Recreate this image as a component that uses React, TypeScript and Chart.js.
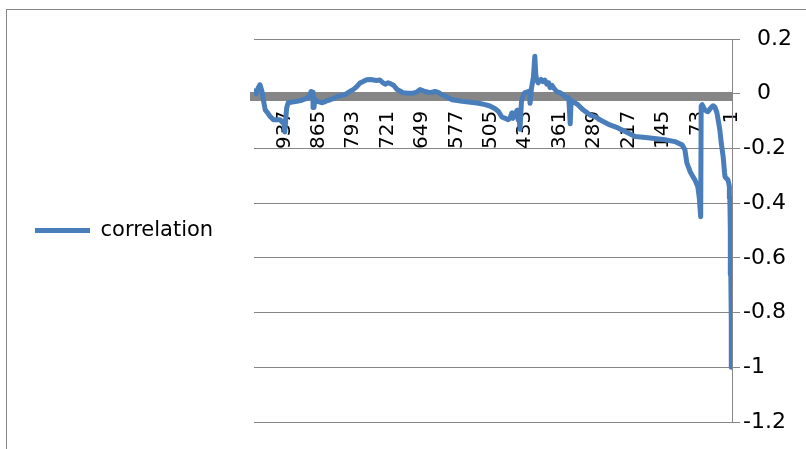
import React, { useEffect, useRef } from 'react';
import { Chart, registerables } from 'chart.js';

Chart.register(...registerables);

const lags = [
  1, 2, 3, 4, 5, 6, 7, 9, 12, 15, 16, 19, 23, 26, 28, 32, 36, 40, 44, 51, 57, 63, 64, 65,
  66, 69, 72, 78, 82, 88, 95, 99, 105, 120, 141, 176, 203, 224, 239, 256, 272, 287, 298,
  312, 323, 333, 337, 339, 342, 346, 354, 360, 367, 373, 377, 381, 384, 388, 392, 396, 400,
  404, 406, 409, 411, 413, 416, 420, 423, 424, 427, 434, 437, 441, 444, 446, 448, 450, 454,
  459, 461, 465, 469, 475, 482, 489, 496, 507, 517, 528, 538, 552, 565, 575, 586, 597, 607,
  615, 622, 632, 643, 649, 653, 660, 668, 678, 689, 695, 701, 708, 714, 720, 726, 731, 737,
  744, 750, 757, 765, 772, 779, 786, 793, 800, 807, 813, 820, 827, 834, 841, 847, 853, 859,
  864, 869, 873, 875, 877, 879, 881, 884, 888, 895, 903, 911, 920, 929, 932, 934, 936, 938,
  941, 946, 953, 960, 964, 967, 972, 977, 981, 984, 988, 992, 996, 1000
];

// Correlation value at each of those lags
const correlation = [
  -1.0, -0.83, -0.66, -0.5, -0.38, -0.34, -0.33, -0.315, -0.31, -0.304, -0.29, -0.23, -0.18,
  -0.132, -0.11, -0.07, -0.05, -0.044, -0.05, -0.066, -0.06, -0.04, -0.045, -0.05,
  -0.45, -0.38, -0.34, -0.315, -0.304, -0.285, -0.253, -0.205, -0.187, -0.175, -0.168,
  -0.161, -0.156, -0.138, -0.125, -0.114, -0.1, -0.084, -0.077,
  -0.059, -0.04, -0.029, -0.025, -0.11, -0.015, -0.015, -0.004, 0.004, 0.007, 0.02, 0.03,
  0.022, 0.04, 0.035, 0.05, 0.044, 0.052,
  0.045, 0.04, 0.05, 0.07, 0.137, 0.06, 0.02, -0.035, 0.01, 0.007, 0.004, -0.005, -0.03,
  -0.13, -0.08, -0.095, -0.06, -0.075,
  -0.09, -0.07, -0.09, -0.095, -0.09, -0.085, -0.065, -0.055, -0.045, -0.04, -0.036, -0.033,
  -0.03, -0.028, -0.025, -0.022, -0.012, -0.004,
  0.005, 0.008, 0.004, 0.008, 0.012, 0.015, 0.006, 0.002, 0.002, 0.004, 0.01, 0.015, 0.03,
  0.036, 0.04, 0.035, 0.04, 0.05,
  0.048, 0.05, 0.052, 0.051, 0.045, 0.039, 0.025, 0.015, 0.008, 0.0, -0.005, -0.008, -0.01,
  -0.018, -0.022, -0.025, -0.03, -0.033,
  -0.03, -0.028, -0.02, -0.05, 0.005, -0.01, 0.008, -0.005, -0.015, -0.02, -0.025, -0.028,
  -0.03, -0.033, -0.05, -0.09, -0.14, -0.11,
  -0.105, -0.095, -0.095, -0.095, -0.088, -0.083, -0.07, -0.059, -0.022, 0.01, 0.033, 0.02,
  0.0, 0.01
];

const categoryCount = 1000;
const xTickLabels = [1, 73, 145, 217, 289, 361, 433, 505, 577, 649, 721, 793, 865, 937];
const yMin = -1.2;
const yMax = 0.2;
const yStep = 0.2;
const axisCrossing = -0.011;
const seriesName = 'correlation';

const GRID = '#868686';
const LINE = '#4a7ebb';
const FONT = "'DejaVu Sans', 'Open Sans', sans-serif";

export default function App() {
  const ref = useRef<HTMLCanvasElement>(null);

  useEffect(() => {
    if (!ref.current) return;

    const framePlugin = {
      id: 'frame',
      beforeDraw(chart: any) {
        const ctx = chart.ctx;
        ctx.save();
        ctx.fillStyle = '#ffffff';
        ctx.fillRect(0, 0, chart.width, chart.height);
        ctx.strokeStyle = GRID;
        ctx.lineWidth = 1;
        ctx.strokeRect(6.5, 9.5, 1200, 1200);
        ctx.restore();
      },
    };

    const chart = new Chart(ref.current, {
      type: 'line',
      data: {
        datasets: [
          {
            label: seriesName,
            data: lags.map((x, i) => ({ x, y: correlation[i] })),
            borderColor: LINE,
            backgroundColor: LINE,
            borderWidth: 5,
            pointRadius: 0,
            pointHoverRadius: 0,
            tension: 0,
            borderJoinStyle: 'round',
            borderCapStyle: 'round',
            xAxisID: 'x',
            yAxisID: 'y',
          },
        ],
      },
      options: {
        responsive: false,
        animation: false,
        devicePixelRatio: 1,
        layout: { padding: { top: 39, bottom: 27, left: 0, right: 0 } },
        plugins: {
          legend: {
            position: 'left',
            align: 'center',
            maxWidth: 400,
            labels: {
              usePointStyle: true,
              pointStyle: 'line',
              pointStyleWidth: 55,
              padding: 35,
              color: '#000000',
              font: { family: FONT, size: 21 },
            },
          },
          tooltip: { enabled: false },
        },
        scales: {
          x: {
            type: 'linear',
            reverse: true,
            min: 0.5,
            max: categoryCount + 0.5,
            position: { y: axisCrossing },
            grid: { display: true, color: 'rgba(0,0,0,0)', drawTicks: false },
            border: { display: true, color: GRID, width: 9 },
            afterBuildTicks: (scale: any) => {
              scale.ticks = xTickLabels.map((v) => ({ value: v }));
            },
            ticks: {
              autoSkip: false,
              minRotation: 90,
              maxRotation: 90,
              padding: 14,
              color: '#000000',
              font: { family: FONT, size: 20 },
              callback: (v: any) => String(v),
            },
          },
          y: {
            type: 'linear',
            position: 'right',
            min: yMin,
            max: yMax,
            ticks: {
              stepSize: yStep,
              padding: 3,
              color: '#000000',
              font: { family: FONT, size: 22 },
              callback: (v: any) => {
                const n = Number(Number(v).toFixed(1));
                const s = String(n === 0 ? 0 : n);
                return n >= 0 ? '\u2007' + s : s;
              },
            },
            grid: { color: GRID, lineWidth: 1, tickLength: 8 },
            border: { display: true, color: GRID, width: 1 },
            afterFit: (scale: any) => {
              scale.width = 74;
            },
          },
          pad: {
            type: 'linear',
            position: 'left',
            display: true,
            grid: { display: false, drawTicks: false },
            border: { display: false },
            ticks: { display: false },
            afterFit: (scale: any) => {
              const lw = scale.chart.legend ? scale.chart.legend.width : 0;
              scale.width = Math.max(0, 254 - lw);
            },
          },
        },
      },
      plugins: [framePlugin],
    } as any);

    return () => chart.destroy();
  }, []);

  return (
    <div style={{ position: 'fixed', left: 0, top: 0, width: 806, height: 449, background: '#fff' }}>
      <canvas ref={ref} width={806} height={449} style={{ display: 'block' }} />
    </div>
  );
}
